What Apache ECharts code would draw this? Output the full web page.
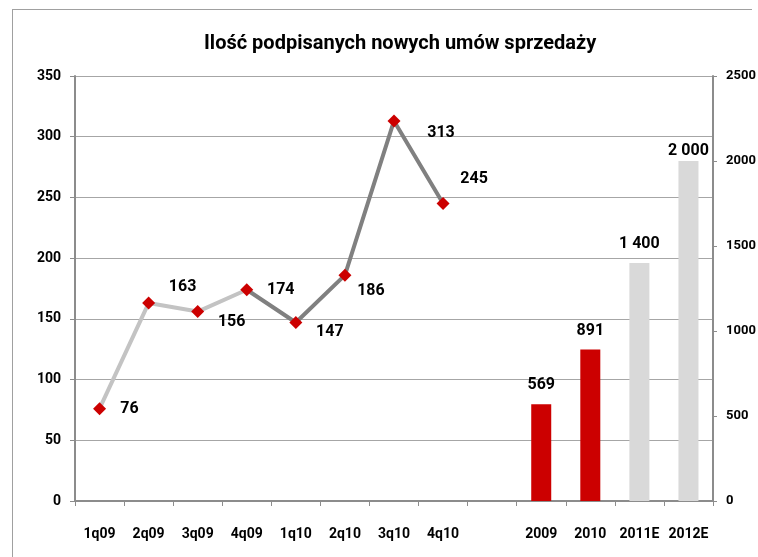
<!DOCTYPE html>
<html><head><meta charset="utf-8">
<script src="https://cdn.jsdelivr.net/npm/echarts@6/dist/echarts.min.js"></script>
<style>html,body{margin:0;padding:0;background:#fff}#c{width:758px;height:557px}</style>
</head><body><div id="c"></div>
<script>
var title = 'Ilość podpisanych nowych umów sprzedaży';
var categories = ['1q09','2q09','3q09','4q09','1q10','2q10','3q10','4q10','','2009','2010','2011E','2012E'];
var quarterValues = [76,163,156,174,147,186,313,245];
var yearCategories = ['2009','2010','2011E','2012E'];
var yearValues = [569,891,1400,2000];
var leftTicks = [0,50,100,150,200,250,300,350];
var rightTicks = [0,500,1000,1500,2000,2500];

var FONT = 'Roboto, "Liberation Sans", sans-serif';
var RED = '#cc0000', LIGHT = '#c3c3c3', DARK = '#808080', BARGRAY = '#d9d9d9';
// label offsets for line points (layout only)
var lblOff = [[30,0],[34,-16],[34,10],[34,0],[34,9],[26,16],[47,12],[31,-25]];

var lightLine = categories.map(function(c,i){ return i <= 3 ? quarterValues[i] : '-'; });
var darkLine = categories.map(function(c,i){ return (i >= 3 && i < quarterValues.length) ? quarterValues[i] : '-'; });
var points = categories.map(function(c,i){
  if (i >= quarterValues.length) return '-';
  return {value: quarterValues[i], label: {offset: lblOff[i]}};
});
var bars = categories.map(function(c){
  var k = yearCategories.indexOf(c);
  if (k < 0 || c === '') return '-';
  var v = yearValues[k];
  // labels near the plot top are kept inside the plot area
  return v / 2500 > 0.75 ? {value: v, label: {distance: 2}} : v;
});
function fmt(v){ return String(v).replace(/\B(?=(\d{3})+(?!\d))/g,' '); }

var chart = echarts.init(document.getElementById('c'), null, {renderer:'canvas'});
chart.setOption({
  animation: false,
  backgroundColor: '#fff',
  textStyle: {fontFamily: FONT},
  title: {text: title, left: 199, top: 29,
    textStyle: {fontFamily: FONT, fontWeight: 'bold', fontSize: 20, color: '#000'}},
  graphic: [
    {type:'line', shape:{x1:12,y1:9.5,x2:752,y2:9.5}, style:{stroke:'#a0a0a0', lineWidth:1}},
    {type:'line', shape:{x1:12.5,y1:9,x2:12.5,y2:557}, style:{stroke:'#a0a0a0', lineWidth:1}}
  ],
  grid: {left: 75, right: 45, top: 76, bottom: 56, containLabel: false, outerBoundsMode: 'none'},
  xAxis: {
    type: 'category', data: categories, boundaryGap: true,
    axisLine: {lineStyle: {color: '#8c8c8c', width: 2}},
    axisTick: {show: true, interval: 0, length: 5, lineStyle: {color: '#8c8c8c', width: 1}},
    axisLabel: {interval: 0, margin: 26, color: '#000', fontWeight: 'bold', fontSize: 14, fontFamily: FONT, hideOverlap: false}
  },
  yAxis: [
    {type: 'value', min: 0, max: 350, interval: 50, position: 'left',
     axisLine: {show: true, lineStyle: {color: '#8c8c8c', width: 2}},
     axisTick: {show: true, length: 5, lineStyle: {color: '#8c8c8c'}},
     splitLine: {show: true, lineStyle: {color: '#a6a6a6', width: 1}},
     axisLabel: {margin: 14, color: '#000', fontWeight: 'bold', fontSize: 14, fontFamily: FONT,
       formatter: function(v){ return leftTicks.indexOf(v) >= 0 ? String(v) : ''; }}},
    {type: 'value', min: 0, max: 2500, interval: 500, position: 'right',
     axisLine: {show: true, lineStyle: {color: '#8c8c8c', width: 2}},
     axisTick: {show: true, length: 4, lineStyle: {color: '#8c8c8c'}},
     splitLine: {show: false},
     axisLabel: {margin: 13, color: '#000', fontWeight: 'bold', fontSize: 13, fontFamily: FONT,
       formatter: function(v){ return rightTicks.indexOf(v) >= 0 ? String(v) : ''; }}}
  ],
  series: [
    {type: 'bar', yAxisIndex: 1, data: bars, barWidth: 20,
     itemStyle: {color: function(p){ return /E$/.test(categories[p.dataIndex]) ? BARGRAY : RED; }},
     label: {show: true, position: 'top', distance: 11, color: '#000', fontWeight: 'bold', fontSize: 16, fontFamily: FONT,
       formatter: function(p){ return fmt(p.value); }}},
    {type: 'line', data: lightLine, showSymbol: false, lineStyle: {color: LIGHT, width: 4}, z: 3},
    {type: 'line', data: darkLine, showSymbol: false, lineStyle: {color: DARK, width: 4}, z: 3},
    {type: 'scatter', data: points, symbol: 'diamond', symbolSize: 13, z: 5,
     itemStyle: {color: RED, opacity: 1},
     label: {show: true, position: 'inside', color: '#000', fontWeight: 'bold', fontSize: 16, fontFamily: FONT,
       formatter: function(p){ return String(p.value); }}}
  ]
});
</script></body></html>
